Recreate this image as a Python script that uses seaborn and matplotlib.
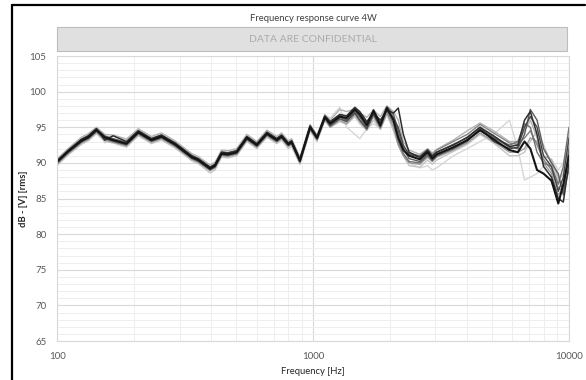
import matplotlib
matplotlib.use("Agg")
import matplotlib.pyplot as plt
from matplotlib.lines import Line2D
from matplotlib.patches import Rectangle
from matplotlib.ticker import LogLocator, FixedLocator, NullFormatter, FuncFormatter
import seaborn as sns
import pandas as pd

# Measurement frequencies [Hz]
freq_hz = [100, 110, 124, 132, 142, 153, 165, 186, 207, 233, 255, 288, 335, 355, 395,
           413, 438, 464, 502, 550, 602, 659, 720, 752, 799, 823, 887, 972, 1035, 1110,
           1165, 1270, 1350, 1455, 1520, 1620, 1720, 1830, 1940, 2060, 2150, 2250, 2370,
           2610, 2800, 2920, 3040, 3530, 4000, 4490, 5070, 5850, 6310, 6700, 7060, 7500,
           7950, 8540, 9080, 9500, 10000]

# Measured level of each sample, dB re 1 V rms
sample_01 = [90.2, 91.6, 93.1, 93.6, 94.6, 93.6, 93.2, 92.7, 94.3, 93.2, 93.7, 92.6, 90.8, 90.4, 89.2,
             89.6, 91.3, 91.2, 91.5, 93.5, 92.5, 94.1, 93.2, 93.7, 92.6, 92.9, 90.3, 95.0, 93.5, 96.4,
             95.5, 96.5, 96.3, 97.5, 96.8, 95.3, 97.3, 95.3, 97.7, 96.0, 93.5, 91.8, 91.0,
             90.5, 91.5, 90.6, 91.2, 92.2, 93.2, 94.6, 93.3, 91.8, 91.5, 93.0, 92.0, 89.0,
             88.5, 87.5, 84.3, 87.0, 91.0]
sample_02 = [90.3, 91.7, 93.3, 93.8, 94.8, 93.2, 93.8, 93.0, 94.5, 93.4, 93.9, 92.8, 91.0, 90.6, 89.4,
             89.8, 91.5, 91.4, 91.7, 93.7, 92.7, 94.3, 93.4, 93.9, 92.8, 93.1, 90.5, 95.2, 93.7, 96.6,
             95.8, 96.8, 96.6, 97.8, 97.2, 95.8, 97.0, 96.0, 97.4, 97.0, 97.7, 94.0, 91.5,
             90.8, 91.8, 90.9, 91.5, 92.5, 93.6, 95.0, 93.8, 92.3, 92.5, 96.0, 97.2, 94.0,
             89.5, 88.0, 85.0, 84.5, 90.0]
sample_03 = [90.1, 91.5, 93.0, 93.5, 94.5, 93.5, 93.1, 92.6, 94.2, 93.1, 93.6, 92.5, 90.7, 90.3, 89.1,
             89.5, 91.2, 91.1, 91.4, 93.4, 92.4, 94.0, 93.1, 93.6, 92.5, 92.8, 90.2, 94.9, 93.4, 96.3,
             95.2, 96.2, 95.8, 97.0, 96.0, 94.8, 96.8, 95.0, 97.5, 96.2, 95.0, 92.5, 91.2,
             90.8, 91.7, 91.0, 91.5, 92.6, 93.5, 95.0, 93.0, 92.0, 92.2, 95.0, 96.5, 95.0,
             91.0, 89.5, 86.0, 88.0, 93.5]
sample_04 = [90.4, 91.8, 93.3, 93.8, 94.8, 93.8, 93.4, 92.9, 94.5, 93.4, 93.9, 92.8, 91.0, 90.6, 89.4,
             89.8, 91.5, 91.4, 91.7, 93.7, 92.7, 94.3, 93.4, 93.9, 92.8, 93.1, 90.5, 95.1, 93.6, 96.5,
             95.7, 96.6, 96.0, 97.3, 96.4, 95.0, 97.5, 95.6, 97.9, 96.8, 94.5, 92.0, 90.6,
             90.2, 91.2, 90.3, 91.0, 92.0, 93.0, 94.8, 93.6, 92.2, 92.0, 94.0, 97.5, 96.0,
             92.0, 90.0, 88.5, 85.5, 92.0]
sample_05 = [90.0, 91.4, 92.9, 93.4, 94.4, 93.4, 93.0, 92.5, 94.1, 93.0, 93.5, 92.4, 90.6, 90.2, 89.0,
             89.4, 91.1, 91.0, 91.3, 93.3, 92.3, 93.9, 93.0, 93.5, 92.4, 92.7, 90.1, 94.8, 93.3, 96.2,
             95.4, 96.4, 96.0, 97.2, 96.5, 95.5, 97.0, 95.8, 97.3, 95.5, 93.0, 91.3, 90.2,
             90.0, 91.0, 90.4, 91.0, 92.0, 93.2, 94.5, 93.5, 92.5, 93.0, 95.5, 95.0, 91.5,
             90.0, 89.5, 87.0, 89.5, 95.0]
sample_06 = [90.2, 91.6, 93.2, 93.7, 94.7, 93.7, 93.3, 92.8, 94.4, 93.3, 93.8, 92.7, 90.9, 90.5, 89.3,
             89.7, 91.4, 91.3, 91.6, 93.6, 92.6, 94.2, 93.3, 93.8, 92.7, 93.0, 90.4, 95.1, 93.6, 96.5,
             95.6, 96.7, 96.5, 97.6, 97.0, 95.6, 97.4, 95.5, 97.6, 96.5, 94.0, 92.2, 91.3,
             91.0, 91.9, 91.2, 91.8, 93.0, 94.0, 95.4, 94.2, 92.8, 92.6, 93.5, 94.5, 92.5,
             90.5, 89.0, 86.5, 86.0, 89.0]
sample_07 = [89.9, 91.3, 92.8, 93.3, 94.3, 93.2, 92.9, 92.4, 94.0, 92.9, 93.4, 92.3, 90.5, 90.1, 88.9,
             89.3, 91.0, 90.9, 91.2, 93.2, 92.2, 93.8, 92.9, 93.4, 92.3, 92.6, 90.0, 94.7, 93.2, 96.1,
             95.0, 96.0, 95.5, 96.8, 95.8, 94.6, 96.5, 94.8, 97.0, 95.0, 92.5, 91.0, 90.0,
             89.8, 90.8, 90.2, 90.8, 91.8, 92.8, 94.2, 93.0, 91.5, 91.5, 92.0, 93.5, 93.0,
             90.0, 88.5, 85.5, 86.5, 91.5]
sample_08 = [90.6, 92.0, 93.6, 94.1, 95.0, 94.0, 93.9, 93.3, 94.8, 93.7, 94.2, 93.1, 91.3, 90.9, 89.7,
             90.1, 91.8, 91.7, 92.0, 94.0, 93.0, 94.6, 93.7, 94.2, 93.1, 93.4, 90.8, 95.4, 93.9, 96.8,
             96.0, 97.5, 97.2, 97.6, 97.0, 96.4, 97.4, 96.5, 98.0, 97.2, 96.0, 93.0, 91.8,
             91.2, 92.0, 91.4, 91.9, 93.2, 94.5, 95.6, 94.5, 93.0, 93.0, 94.5, 96.0, 93.5,
             91.0, 90.5, 88.0, 86.0, 92.5]
sample_09 = [89.7, 91.1, 92.6, 93.1, 94.1, 93.0, 92.8, 92.2, 93.8, 92.7, 93.2, 92.1, 90.3, 89.9, 88.6,
             89.0, 90.8, 90.7, 91.0, 93.0, 92.0, 93.6, 92.7, 93.2, 92.0, 92.3, 89.8, 94.5, 93.0, 95.9,
             95.0, 95.8, 95.4, 96.5, 95.5, 94.6, 96.0, 94.7, 96.8, 94.5, 92.5, 91.0, 89.6,
             89.4, 90.4, 89.8, 90.4, 91.6, 92.6, 94.0, 92.8, 91.0, 91.0, 91.5, 93.0, 94.5,
             92.5, 90.0, 87.5, 88.5, 94.0]
sample_10 = [90.4, 91.8, 93.4, 93.9, 94.9, 92.8, 93.9, 93.4, 94.6, 93.5, 94.0, 92.9, 91.1, 90.7, 89.5,
             89.9, 91.6, 91.5, 91.8, 93.8, 92.8, 94.4, 93.5, 94.0, 92.9, 93.2, 90.6, 95.3, 93.8, 96.7,
             96.3, 97.8, 95.0, 94.0, 93.4, 94.8, 95.5, 94.8, 97.2, 95.8, 94.0, 91.5, 90.0,
             89.3, 89.6, 89.0, 89.3, 91.0, 92.0, 93.0, 94.0, 96.0, 92.0, 87.6, 88.0, 88.5,
             89.5, 90.5, 89.0, 90.0, 93.0]

samples = [sample_10, sample_09, sample_08, sample_07, sample_06,
           sample_05, sample_04, sample_03, sample_02, sample_01]
sample_names = ["S10", "S09", "S08", "S07", "S06", "S05", "S04", "S03", "S02", "S01"]
line_colors = ["#d6d6d6", "#c4c4c4", "#b3b3b3", "#9a9a9a", "#858585",
               "#707070", "#5c5c5c", "#474747", "#2e2e2e", "#141414"]
line_widths = [1.0, 1.0, 1.0, 1.0, 1.0, 1.0, 1.0, 1.0, 1.1, 1.5]

y_ticks = [65, 70, 75, 80, 85, 90, 95, 100, 105]
x_ticks = [100, 1000, 10000]

sns.set_theme(style="white")
plt.rcParams["font.family"] = ["Lato", "DejaVu Sans"]

fig = plt.figure(figsize=(5.86, 3.80), dpi=100)
ax = fig.add_axes([0.0981, 0.1026, 0.8729, 0.75])

for name, vals, col, lw in zip(sample_names, samples, line_colors, line_widths):
    df = pd.DataFrame({"freq": freq_hz, "level": vals})
    sns.lineplot(data=df, x="freq", y="level", ax=ax, color=col, linewidth=lw,
                 estimator=None, sort=False, legend=False)

ax.set_xscale("log")
ax.set_xlim(100, 10000)
ax.set_ylim(65, 105)

ax.xaxis.set_major_locator(FixedLocator(x_ticks))
ax.xaxis.set_major_formatter(FuncFormatter(lambda v, p: f"{int(round(v))}"))
ax.xaxis.set_minor_locator(LogLocator(base=10, subs=range(2, 10)))
ax.xaxis.set_minor_formatter(NullFormatter())
ax.yaxis.set_major_locator(FixedLocator(y_ticks))
ax.yaxis.set_minor_locator(FixedLocator(list(range(65, 106))))

ax.grid(which="minor", color="#eeeeee", linewidth=0.7)
ax.grid(which="major", color="#d9d9d9", linewidth=0.8)
ax.set_axisbelow(True)

for s in ax.spines.values():
    s.set_color("#d9d9d9")
    s.set_linewidth(0.8)

ax.tick_params(axis="both", which="both", length=0, colors="#595959", labelsize=7)
ax.tick_params(axis="y", pad=8)
ax.tick_params(axis="x", pad=8)

ax.set_xlabel("Frequency [Hz]", fontsize=6.8, color="#262626", labelpad=4)
ax.set_ylabel("dB - [V] [rms]", fontsize=6.8, color="#262626", fontweight="bold", labelpad=1)

# Chart title and confidentiality banner
fig.text(0.5345, 0.952, "Frequency response curve 4W", ha="center", va="center",
         fontsize=6.8, color="#404040")
banner = Rectangle((0.0981, 0.8658), 0.8695, 0.0631, transform=fig.transFigure,
                   facecolor="#e0e0e0", edgecolor="#bdbdbd", linewidth=0.8)
fig.add_artist(banner)
fig.text(0.5345, 0.897, "DATA ARE CONFIDENTIAL", ha="center", va="center",
         fontsize=7.5, color="#ababab")

# Outer frame edges
fig.add_artist(Line2D([0.0213, 0.999], [0.9880, 0.9880], transform=fig.transFigure,
                      color="black", linewidth=1.6))
fig.add_artist(Line2D([0.0213, 0.0213], [0.0, 0.9880], transform=fig.transFigure,
                      color="black", linewidth=1.6))

fig.savefig("out.png", dpi=100)
